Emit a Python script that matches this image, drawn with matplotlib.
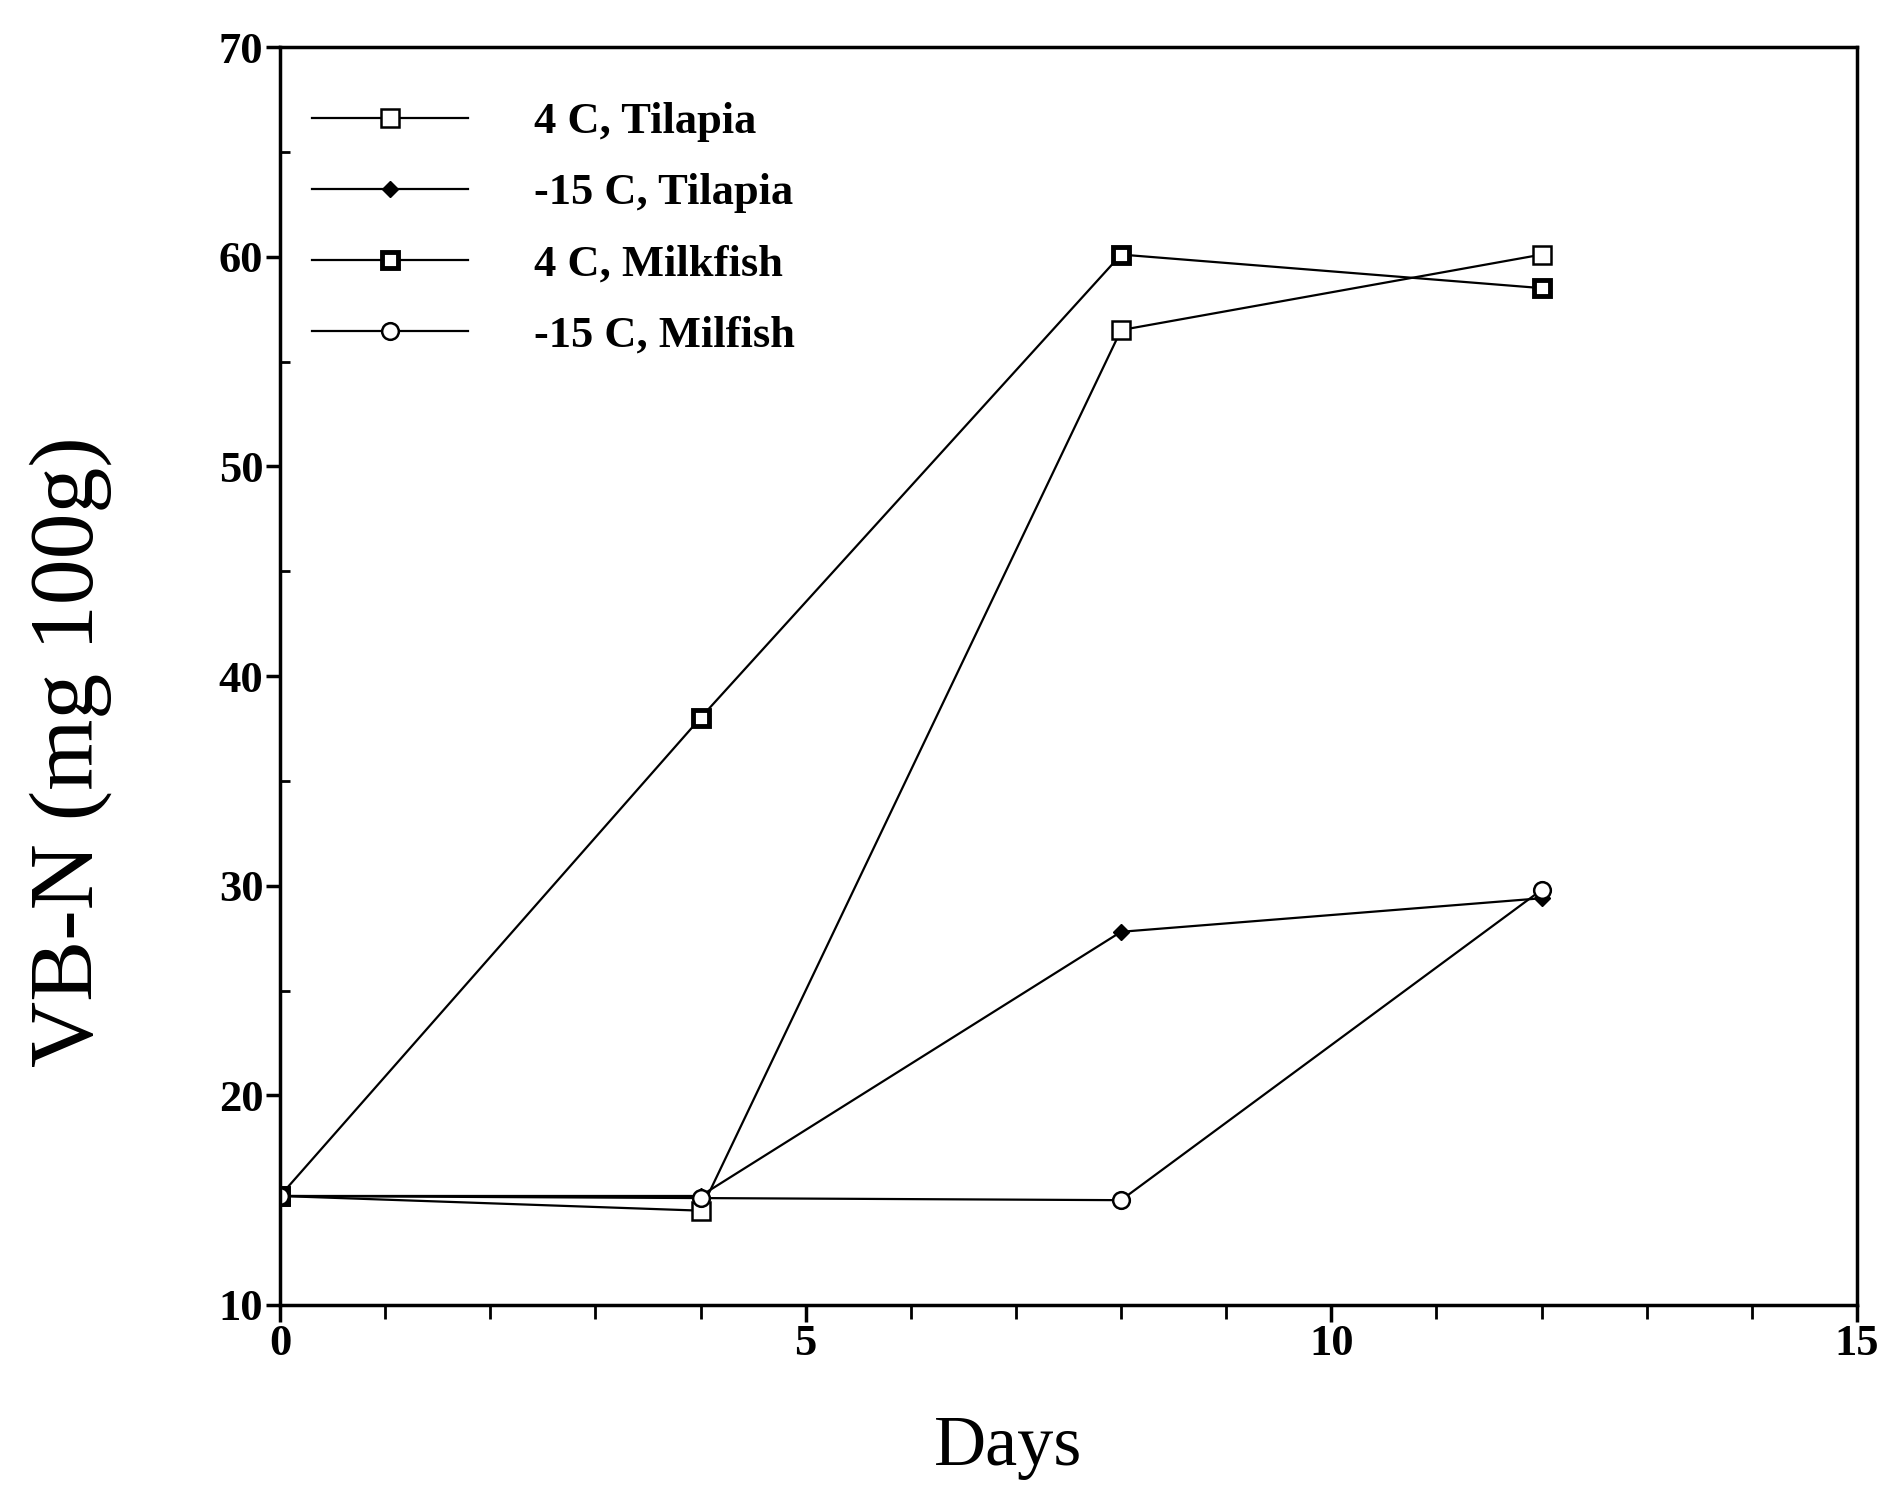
import matplotlib
matplotlib.use('Agg')
import matplotlib.pyplot as plt
from matplotlib.ticker import MultipleLocator

# VB-N storage data
days = [0, 4, 8, 12]
tilapia_4c = [15.2, 14.5, 56.5, 60.1]
tilapia_m15 = [15.2, 15.2, 27.8, 29.4]
milkfish_4c = [15.2, 38.0, 60.1, 58.5]
milfish_m15 = [15.2, 15.1, 15.0, 29.8]

labels = ['4 C, Tilapia', '-15 C, Tilapia', '4 C, Milkfish', '-15 C, Milfish']

plt.rcParams['font.family'] = ['Liberation Serif', 'DejaVu Serif']

fig = plt.figure(figsize=(18.77, 14.87), dpi=100)
ax = fig.add_axes([280 / 1877, 1 - 1305 / 1487, (1857 - 280) / 1877, (1305 - 47) / 1487])

lw = 1.6
ax.plot(days, tilapia_4c, color='black', lw=lw, marker='s', ms=13,
        mfc='white', mec='black', mew=1.8, label=labels[0])
ax.plot(days, tilapia_m15, color='black', lw=lw, marker='D', ms=8,
        mfc='black', mec='black', label=labels[1])
ax.plot(days, milkfish_4c, color='black', lw=lw, marker='s', ms=11,
        mfc='white', mec='black', mew=3.5, label=labels[2])
ax.plot(days, milfish_m15, color='black', lw=lw, marker='o', ms=12,
        mfc='white', mec='black', mew=1.8, label=labels[3])

ax.set_xlim(0, 15)
ax.set_ylim(10, 70)
ax.xaxis.set_major_locator(MultipleLocator(5))
ax.xaxis.set_minor_locator(MultipleLocator(1))
ax.yaxis.set_major_locator(MultipleLocator(10))
ax.yaxis.set_minor_locator(MultipleLocator(5))

for s in ax.spines.values():
    s.set_linewidth(2.5)

ax.tick_params(axis='x', which='major', direction='out', length=12, width=2.5,
               labelsize=32, pad=2)
ax.tick_params(axis='x', which='minor', direction='out', length=10, width=2)
ax.tick_params(axis='y', which='major', direction='out', length=10, width=2.5,
               labelsize=32, pad=2)
ax.tick_params(axis='y', which='minor', direction='in', length=7, width=2)
for t in ax.get_xticklabels() + ax.get_yticklabels():
    t.set_fontweight('bold')

ax.set_xlabel('Days', fontsize=52, va='center', ha='center')
ax.xaxis.set_label_coords(0.462, -0.113)
ax.set_ylabel('VB-N (mg 100g)', fontsize=66, va='center', ha='center',
              rotation_mode='default')
ax.yaxis.set_label_coords(-0.133, 0.44)

leg = ax.legend(loc='upper left', bbox_to_anchor=(312 / 1877, 1 - 102 / 1487),
                bbox_transform=fig.transFigure, frameon=False,
                borderaxespad=0, borderpad=0, handlelength=3.5,
                handletextpad=1.5, labelspacing=0.7,
                prop={'size': 32, 'weight': 'bold'})

fig.savefig('out.png', dpi=100)
